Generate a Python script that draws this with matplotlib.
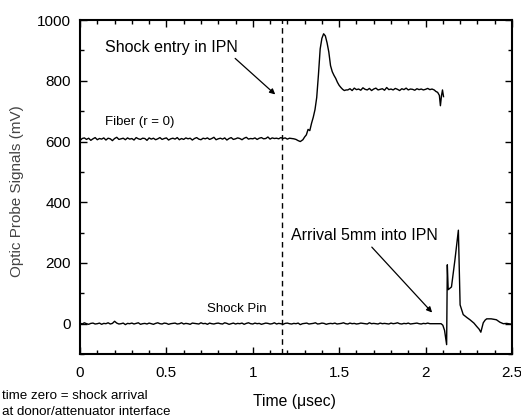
import numpy as np
import matplotlib
matplotlib.use("Agg")
import matplotlib.pyplot as plt
from matplotlib.ticker import MultipleLocator

plt.rcParams['font.family'] = ['Liberation Sans', 'DejaVu Sans']

dt = 0.0125

fiber_flat = [603, 610, 612, 607, 611, 604, 609, 613, 606, 610, 608, 612, 605, 611, 609, 603,
              610, 614, 607, 609, 611, 606, 612, 608, 610, 605, 613, 609, 607, 611, 610, 604,
              612, 608, 611, 606, 609, 613, 607, 610, 612, 605, 609, 611, 608, 613, 606, 610,
              607, 612, 609, 611, 605, 610, 613, 608, 606, 611, 609, 612, 607, 610, 614, 606,
              609, 611, 608, 612, 605, 610, 613, 607, 609, 612, 610, 606, 611, 614, 608, 610,
              609, 612, 607, 611, 613, 609, 610, 615, 608, 612, 610, 611, 609, 613, 610, 612,
              608, 611, 610, 609, 607, 603, 600]
fiber_rise_t = [1.29, 1.30, 1.31, 1.32, 1.33, 1.34, 1.35, 1.36, 1.37, 1.38, 1.39, 1.40, 1.41,
                1.42, 1.43, 1.44, 1.45, 1.46, 1.47, 1.48, 1.49, 1.50, 1.51, 1.52, 1.53, 1.54]
fiber_rise_v = [606, 615, 622, 640, 636, 660, 680, 705, 745, 820, 905, 940, 955, 948, 925, 895,
                850, 830, 818, 808, 795, 785, 778, 772, 768, 770]
fiber_plateau = [770, 774, 768, 776, 771, 773, 769, 777, 772, 770, 775, 768, 773, 776, 770, 772,
                 774, 769, 778, 771, 773, 770, 775, 772, 768, 774, 771, 776, 770, 773, 772, 769,
                 774, 771, 773, 770, 772, 775, 771, 773, 770]
fiber_end_t = [2.06, 2.07, 2.08, 2.086, 2.092, 2.098, 2.104]
fiber_end_v = [765, 762, 752, 718, 750, 770, 748]

pin_flat = [2, -1, 3, 0, -2, 1, 2, -1, 0, 2, -2, 1, 0, 3, -1, 1, 8, 2, -1, 0, 2, -3, 1, 0,
            2, -1, 1, 3, -2, 0, 1, -1, 2, 0, -2, 1, 3, 0, -1, 2, 1, -2, 0, 1, 2, -1, 0, 3,
            -1, 1, 0, -2, 2, 1, 0, -1, 3, 0, 1, -2, 2, 0, -1, 1, 2, 0, -1, 3, 1, -2, 0, 2,
            -1, 1, 0, 2, -2, 1, 3, 0, -1, 2, 0, 1, -2, 0, 2, 1, -1, 0, 3, -1, 1, 0, -2, 1,
            2, 0, -1, 1, 0, 2, -3, 0, 1, 2, -1, 0, 1, 3, -1, 0, 2, 1, -2, 0, 1, 0, 2, -1,
            0, 1, 3, 0, -1, 2, 0, 1, -1, 0, 2, 1, 0, -1, 3, 0, 1, 0, -1, 2, 0, 1, 0, -1,
            2, 0, 1, 3, 0, -1, 1, 0, 2, -1, 0, 1, 2, 0, -1, 1, 0, 2, 0]
pin_event_t = [2.09, 2.10, 2.11, 2.122, 2.126, 2.131, 2.15, 2.17, 2.19, 2.20, 2.218, 2.24,
               2.257, 2.28, 2.296, 2.31, 2.32, 2.327, 2.334, 2.345, 2.354, 2.38, 2.41, 2.43,
               2.45, 2.47, 2.5]
pin_event_v = [0, -5, -22, -69, 194, 112, 121, 210, 308, 62, 30, 20, 13, 2, -9, -18, -28,
               -12, 3, 12, 16, 16, 13, 5, 0, 1, -2]

x_ticks = [0, 0.5, 1, 1.5, 2, 2.5]
x_tick_labels = ['0', '0.5', '1', '1.5', '2', '2.5']
y_ticks = [0, 200, 400, 600, 800, 1000]
shock_entry_t = 1.167

fiber_t = np.concatenate([np.arange(len(fiber_flat)) * dt, fiber_rise_t,
                          1.55 + np.arange(len(fiber_plateau)) * dt, fiber_end_t])
fiber_v = np.concatenate([fiber_flat, fiber_rise_v, fiber_plateau, fiber_end_v])
pin_t = np.concatenate([np.arange(len(pin_flat)) * dt, pin_event_t])
pin_v = np.concatenate([pin_flat, pin_event_v])

fig = plt.figure(figsize=(5.21, 4.19), dpi=100)
ax = fig.add_axes([0.1536, 0.155, 0.829, 0.797])

ax.plot(fiber_t, fiber_v, color='black', lw=1.0)
ax.plot(pin_t, pin_v, color='black', lw=1.0)
ax.axvline(shock_entry_t, color='black', lw=1.0, ls=(0, (4, 3)))

ax.set_xlim(0, 2.5)
ax.set_ylim(-100, 1000)
ax.set_xticks(x_ticks)
ax.set_xticklabels(x_tick_labels)
ax.set_yticks(y_ticks)
ax.xaxis.set_minor_locator(MultipleLocator(0.1))
ax.yaxis.set_minor_locator(MultipleLocator(100))
ax.tick_params(which='both', direction='in', top=True, right=True, labelsize=11, width=1.0)
ax.tick_params(which='major', length=5)
ax.tick_params(which='minor', length=3)
ax.tick_params(axis='x', pad=8.5)
ax.tick_params(axis='y', pad=6.5)
for s in ax.spines.values():
    s.set_linewidth(1.5)

ax.set_ylabel('Optic Probe Signals (mV)', fontsize=11, color='#444444')
ax.yaxis.set_label_coords(-0.13, 0.487)
fig.text(0.565, 0.0406, 'Time (\u03bcsec)', fontsize=11.3, ha='center', va='center')
fig.text(0.004, 0.055, 'time zero = shock arrival', fontsize=9.6, ha='left', va='center')
fig.text(0.004, 0.017, 'at donor/attenuator interface', fontsize=9.6, ha='left', va='center')

ax.text(0.145, 909, 'Shock entry in IPN', fontsize=11.5, va='center')
ax.annotate('', xy=(1.142, 749), xytext=(0.886, 880),
            arrowprops=dict(arrowstyle='-|>', color='black', lw=0.9, mutation_scale=8))
ax.text(1.221, 289, 'Arrival 5mm into IPN', fontsize=11.5, va='center')
ax.annotate('', xy=(2.049, 30), xytext=(1.678, 259),
            arrowprops=dict(arrowstyle='-|>', color='black', lw=0.9, mutation_scale=8))
ax.text(0.145, 664, 'Fiber (r = 0)', fontsize=9.5, va='center')
ax.text(0.735, 48, 'Shock Pin', fontsize=9.5, va='center')

fig.savefig('out.png', dpi=100)
